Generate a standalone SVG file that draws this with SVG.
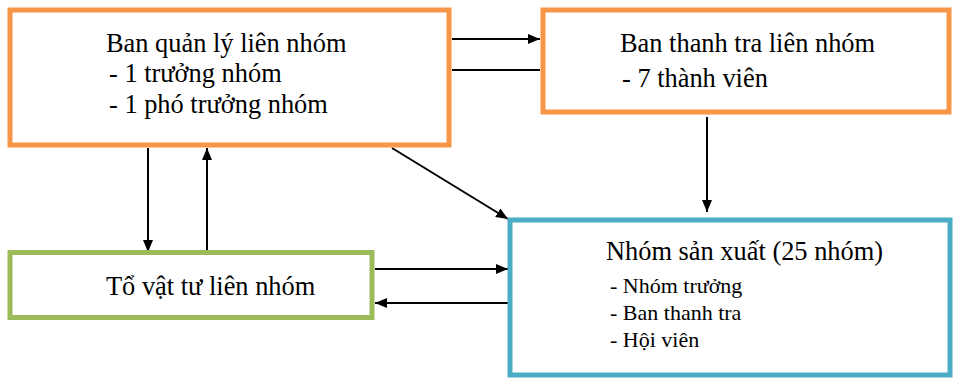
<svg xmlns="http://www.w3.org/2000/svg" width="953" height="380" viewBox="0 0 953 380">
<style>
  .box { fill: #ffffff; stroke-width: 5; }
  .orange { stroke: #F79646; }
  .green { stroke: #9BBB59; }
  .blue { stroke: #4BACC6; }
  .t { font-family: "Liberation Serif", "Times New Roman", serif; font-size: 26.4px; fill: #000; }
  .s { font-family: "Liberation Serif", "Times New Roman", serif; font-size: 22px; fill: #000; }
  .c { stroke: #000; stroke-width: 2; fill: none; }
</style>
<defs>
  <marker id="ah" markerUnits="userSpaceOnUse" markerWidth="12" markerHeight="10" refX="12" refY="5" orient="auto">
    <path d="M0,0 L12,5 L0,10 Z" fill="#000"/>
  </marker>
</defs>
<rect width="953" height="380" fill="#ffffff"/>
<g id="connectors">
  <line class="c" x1="452" y1="39" x2="540" y2="39" marker-end="url(#ah)"/>
  <line class="c" x1="452" y1="70" x2="540" y2="70"/>
  <line class="c" x1="707" y1="117" x2="707" y2="212" marker-end="url(#ah)"/>
  <line class="c" x1="392" y1="148" x2="508" y2="219" marker-end="url(#ah)"/>
  <line class="c" x1="148" y1="148" x2="148" y2="252" marker-end="url(#ah)"/>
  <line class="c" x1="207" y1="250" x2="207" y2="148" marker-end="url(#ah)"/>
  <line class="c" x1="375" y1="269" x2="508" y2="269" marker-end="url(#ah)"/>
  <line class="c" x1="508" y1="303" x2="375" y2="303" marker-end="url(#ah)"/>
</g>
<g id="node-ban-quan-ly">
  <rect class="box orange" x="10" y="10" width="439" height="135"/>
  <text class="t" x="106" y="52">Ban quản lý liên nhóm</text>
  <text class="t" x="109" y="82">- 1 trưởng nhóm</text>
  <text class="t" x="109" y="113">- 1 phó trưởng nhóm</text>
</g>
<g id="node-ban-thanh-tra">
  <rect class="box orange" x="543" y="10" width="406" height="102"/>
  <text class="t" x="620" y="52">Ban thanh tra liên nhóm</text>
  <text class="t" x="622" y="87">- 7 thành viên</text>
</g>
<g id="node-to-vat-tu">
  <rect class="box green" x="10" y="252.5" width="362" height="65"/>
  <text class="t" x="106" y="295">Tổ vật tư liên nhóm</text>
</g>
<g id="node-nhom-san-xuat">
  <rect class="box blue" x="510" y="220" width="440" height="155"/>
  <text class="t" x="606" y="260">Nhóm sản xuất (25 nhóm)</text>
  <text class="s" x="610" y="293">- Nhóm trưởng</text>
  <text class="s" x="610" y="320">- Ban thanh tra</text>
  <text class="s" x="610" y="347">- Hội viên</text>
</g>
</svg>
